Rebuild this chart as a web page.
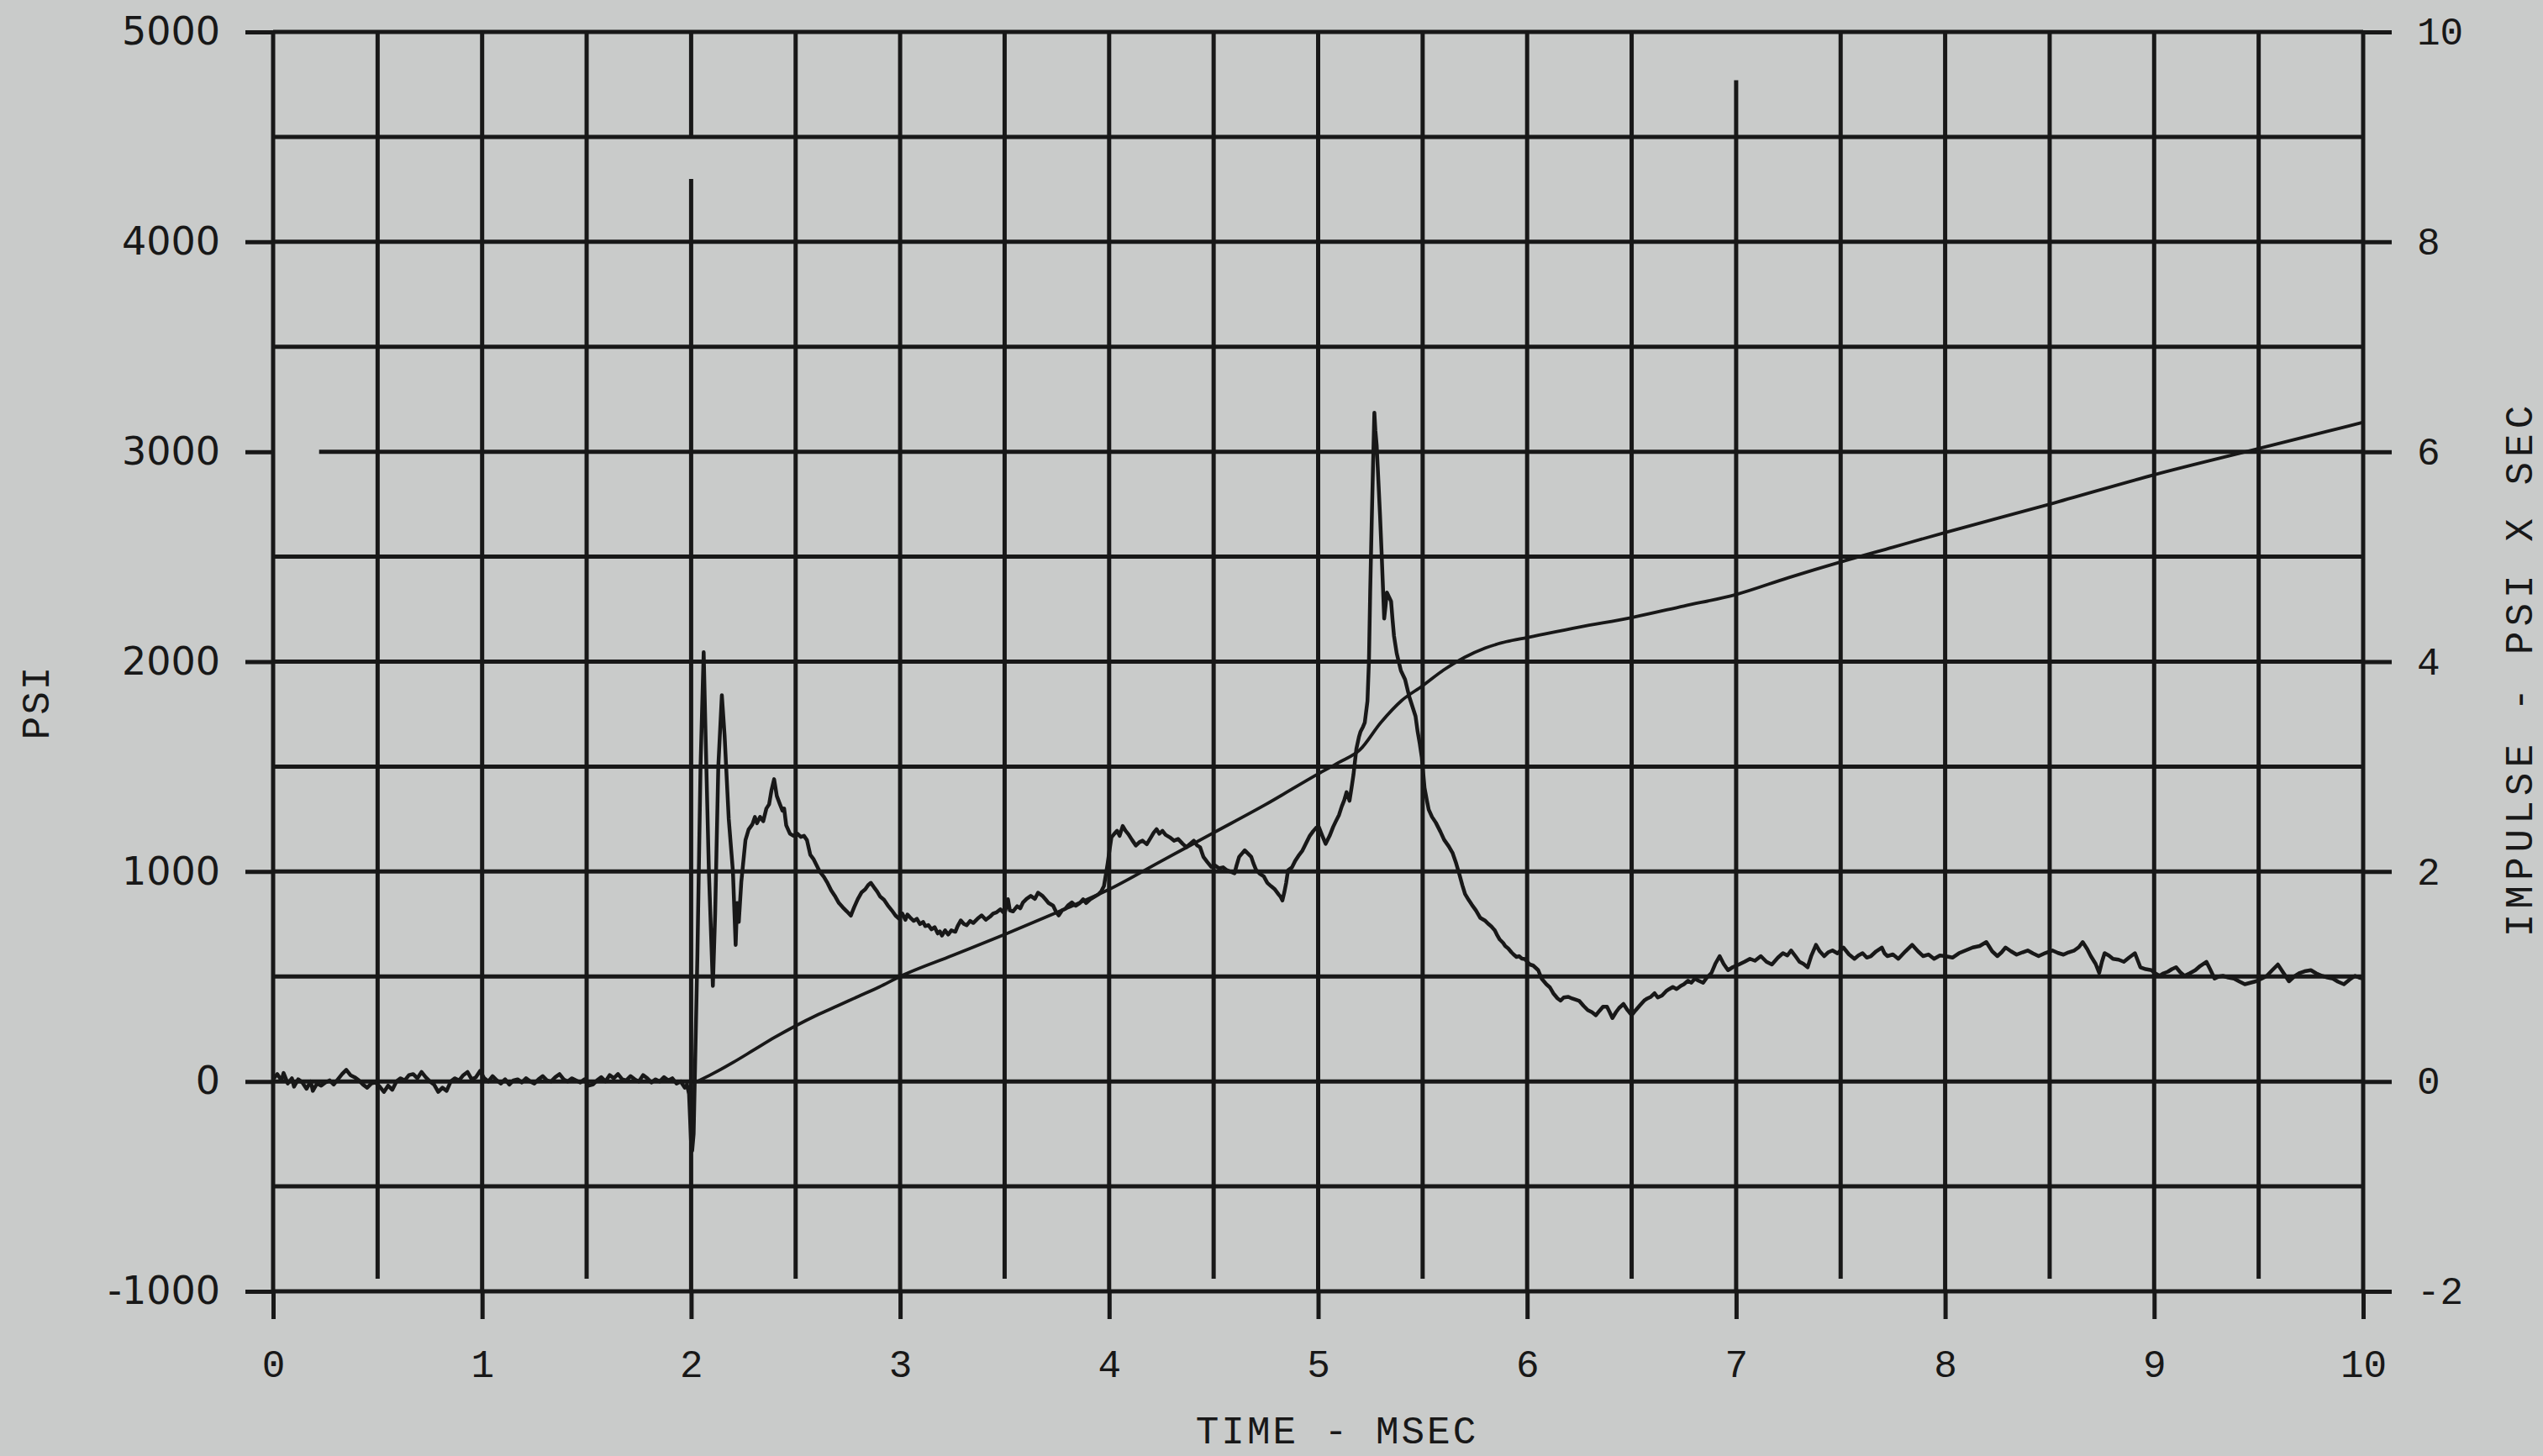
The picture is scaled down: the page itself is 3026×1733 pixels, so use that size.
<!DOCTYPE html>
<html>
<head>
<meta charset="utf-8">
<script src="https://cdn.jsdelivr.net/npm/d3@7"></script>
<style>
  html, body { margin: 0; padding: 0; background: #c9cbca; }
  svg { display: block; }
</style>
</head>
<body>
<div id="chart"></div>
<script>
// Tick values
const timeTicks = [0, 1, 2, 3, 4, 5, 6, 7, 8, 9, 10]
const psiTicks = [-1000, 0, 1000, 2000, 3000, 4000, 5000]
const impulseTicks = [-2, 0, 2, 4, 6, 8, 10]

// Grid every 0.5 msec and every 500 psi
const timeGrid = [0, 0.5, 1, 1.5, 2, 2.5, 3, 3.5, 4, 4.5, 5, 5.5, 6, 6.5, 7, 7.5, 8, 8.5, 9, 9.5, 10]
const psiGrid = [-1000, -500, 0, 500, 1000, 1500, 2000, 2500, 3000, 3500, 4000, 4500, 5000]

// Places where the plotter pen skipped a grid line
const timeGridGaps = [{ t: 2, from: 4500, to: 4300 }, { t: 7, from: 5000, to: 4770 }]
const psiGridGaps = [{ psi: 3000, from: 0, to: 0.22 }]

// Pressure trace [msec, psi]
const pressure = [
  [0.00, 10], [0.02, 35], [0.04, 5], [0.05, 40], [0.07, -10], [0.09, 15], [0.10, -25], [0.12, 10],
  [0.14, -5], [0.16, -35], [0.18, 0], [0.19, -45], [0.21, -10], [0.23, -20], [0.25, -5], [0.27, 5],
  [0.29, -15], [0.31, 10], [0.33, 35], [0.35, 55], [0.37, 30], [0.39, 20], [0.41, 5], [0.43, -15],
  [0.45, -30], [0.47, -10], [0.49, -5], [0.51, -25], [0.53, -50], [0.55, -20], [0.57, -40], [0.59, 0],
  [0.61, 15], [0.63, 5], [0.65, 30], [0.67, 35], [0.69, 15], [0.71, 45], [0.73, 20], [0.75, 0],
  [0.77, -15], [0.79, -50], [0.81, -30], [0.83, -45], [0.85, 0], [0.87, 15], [0.89, 5], [0.91, 30],
  [0.93, 45], [0.95, 10], [0.97, 20], [0.99, 50], [1.01, 15], [1.03, 0], [1.05, 25], [1.07, 5],
  [1.09, -10], [1.11, 10], [1.13, -15], [1.15, 5], [1.17, 10], [1.19, -5], [1.21, 15], [1.23, 0],
  [1.25, -10], [1.27, 10], [1.29, 25], [1.31, 5], [1.33, 0], [1.35, 20], [1.37, 35], [1.39, 10],
  [1.41, 0], [1.43, 15], [1.45, 5], [1.47, -5], [1.49, 10], [1.51, -20], [1.53, -15], [1.55, 5],
  [1.57, 20], [1.59, 0], [1.61, 30], [1.63, 15], [1.65, 35], [1.67, 10], [1.69, 5], [1.71, 25],
  [1.73, 10], [1.75, 0], [1.77, 30], [1.79, 15], [1.81, -5], [1.83, 10], [1.85, 0], [1.87, 20],
  [1.89, 5], [1.91, 15], [1.93, -10], [1.95, 0], [1.97, -30], [1.98, -15], [1.99, -60],
  [2.000, -300], [2.005, -330], [2.012, -250], [2.030, 600], [2.045, 1500], [2.060, 2045],
  [2.068, 1700], [2.085, 1000], [2.104, 455], [2.115, 800], [2.130, 1500], [2.147, 1840],
  [2.160, 1650], [2.180, 1250], [2.200, 1000], [2.213, 650], [2.220, 850], [2.228, 760],
  [2.240, 950], [2.260, 1150], [2.275, 1200], [2.293, 1225], [2.305, 1260], [2.315, 1230],
  [2.330, 1260], [2.345, 1240], [2.360, 1300], [2.373, 1320], [2.385, 1390], [2.397, 1440],
  [2.410, 1360], [2.425, 1320], [2.437, 1290], [2.445, 1300], [2.455, 1220], [2.473, 1180],
  [2.490, 1170], [2.509, 1180], [2.525, 1165], [2.540, 1170], [2.554, 1150], [2.570, 1080],
  [2.585, 1060], [2.600, 1030], [2.615, 1000], [2.635, 975], [2.650, 950], [2.670, 910],
  [2.690, 880], [2.707, 850], [2.725, 830], [2.745, 810], [2.764, 790], [2.780, 830],
  [2.797, 868], [2.815, 900], [2.833, 915], [2.847, 935], [2.860, 946], [2.875, 925],
  [2.890, 905], [2.905, 880], [2.923, 865], [2.940, 840], [2.960, 815], [2.978, 790],
  [2.995, 775], [3.010, 800], [3.025, 770], [3.035, 795], [3.049, 780], [3.065, 765],
  [3.080, 775], [3.095, 750], [3.110, 760], [3.120, 740], [3.135, 745], [3.150, 725],
  [3.165, 735], [3.180, 705], [3.190, 715], [3.200, 695], [3.215, 720], [3.230, 700],
  [3.245, 720], [3.264, 713], [3.275, 740], [3.290, 767], [3.305, 750], [3.318, 744],
  [3.335, 765], [3.350, 755], [3.370, 775], [3.390, 791], [3.410, 770], [3.430, 785],
  [3.445, 800], [3.462, 806], [3.480, 820], [3.500, 800], [3.516, 868], [3.525, 815],
  [3.540, 810], [3.560, 835], [3.575, 825], [3.588, 853], [3.605, 870], [3.625, 884],
  [3.645, 870], [3.660, 899], [3.680, 885], [3.695, 868], [3.710, 850], [3.732, 837],
  [3.745, 810], [3.759, 791], [3.775, 815], [3.790, 822], [3.805, 840], [3.822, 853],
  [3.840, 837], [3.860, 850], [3.876, 868], [3.890, 850], [3.910, 868], [3.930, 880],
  [3.948, 891], [3.962, 905], [3.975, 930], [3.985, 990], [3.993, 1039], [4.003, 1110],
  [4.011, 1163], [4.025, 1180], [4.038, 1194], [4.050, 1170], [4.065, 1217], [4.078, 1195],
  [4.092, 1178], [4.110, 1150], [4.128, 1124], [4.145, 1140], [4.160, 1147], [4.180, 1130],
  [4.200, 1163], [4.213, 1185], [4.227, 1202], [4.240, 1180], [4.255, 1194], [4.270, 1175],
  [4.290, 1163], [4.310, 1147], [4.330, 1155], [4.352, 1132], [4.370, 1116], [4.385, 1130],
  [4.405, 1147], [4.420, 1125], [4.435, 1116], [4.451, 1070], [4.470, 1045], [4.488, 1023],
  [4.505, 1030], [4.525, 1016], [4.545, 1020], [4.560, 1008], [4.580, 1000], [4.600, 992],
  [4.610, 1030], [4.622, 1070], [4.635, 1085], [4.649, 1101], [4.665, 1085], [4.680, 1070],
  [4.690, 1040], [4.703, 1008], [4.720, 990], [4.740, 977], [4.757, 946], [4.775, 930],
  [4.793, 915], [4.811, 891], [4.820, 880], [4.829, 862], [4.838, 900], [4.847, 946],
  [4.856, 1006], [4.875, 1020], [4.890, 1050], [4.909, 1079], [4.925, 1100], [4.940, 1130],
  [4.960, 1170], [4.976, 1192], [4.991, 1209], [5.003, 1213], [5.020, 1170], [5.036, 1132],
  [5.055, 1170], [5.072, 1213], [5.085, 1240], [5.100, 1270], [5.113, 1310], [5.125, 1340],
  [5.136, 1378], [5.150, 1337], [5.160, 1400], [5.169, 1461], [5.183, 1585], [5.195, 1640],
  [5.203, 1667], [5.215, 1690], [5.223, 1709], [5.236, 1812], [5.243, 2000], [5.249, 2329],
  [5.256, 2650], [5.263, 2948], [5.269, 3186], [5.274, 3100], [5.280, 3031], [5.289, 2845],
  [5.296, 2700], [5.303, 2535], [5.316, 2205], [5.322, 2260], [5.329, 2329], [5.338, 2310],
  [5.349, 2287], [5.356, 2200], [5.363, 2122], [5.376, 2039], [5.396, 1957], [5.416, 1915],
  [5.436, 1833], [5.456, 1771], [5.466, 1740], [5.476, 1667], [5.486, 1610], [5.496, 1543],
  [5.509, 1399], [5.520, 1340], [5.529, 1295], [5.545, 1260], [5.563, 1233], [5.585, 1190],
  [5.603, 1151], [5.625, 1120], [5.643, 1089], [5.660, 1040], [5.676, 986], [5.690, 935],
  [5.703, 893], [5.720, 865], [5.736, 841], [5.755, 815], [5.776, 779], [5.800, 765],
  [5.815, 750], [5.829, 738], [5.845, 720], [5.855, 700], [5.869, 676], [5.885, 660],
  [5.895, 645], [5.909, 634], [5.925, 615], [5.935, 605], [5.949, 593], [5.961, 597],
  [5.975, 585], [5.989, 583], [6.013, 557], [6.029, 552], [6.053, 530], [6.069, 490],
  [6.092, 463], [6.109, 448], [6.125, 420], [6.145, 396], [6.160, 385], [6.175, 400],
  [6.197, 403], [6.215, 395], [6.230, 390], [6.250, 383], [6.270, 360], [6.290, 340],
  [6.310, 330], [6.329, 315], [6.345, 335], [6.363, 356], [6.382, 356], [6.395, 330],
  [6.408, 302], [6.425, 330], [6.440, 350], [6.461, 369], [6.480, 340], [6.500, 315],
  [6.520, 340], [6.539, 362], [6.560, 385], [6.575, 395], [6.592, 403], [6.610, 420],
  [6.625, 400], [6.645, 409], [6.665, 430], [6.680, 440], [6.697, 450], [6.715, 440],
  [6.735, 455], [6.750, 463], [6.770, 480], [6.785, 470], [6.803, 490], [6.820, 480],
  [6.842, 470], [6.860, 495], [6.882, 517], [6.900, 560], [6.921, 597], [6.940, 560],
  [6.961, 530], [6.985, 545], [7.013, 557], [7.040, 570], [7.066, 584], [7.090, 575],
  [7.118, 597], [7.145, 570], [7.171, 557], [7.200, 590], [7.224, 611], [7.245, 600],
  [7.263, 624], [7.285, 595], [7.303, 570], [7.322, 560], [7.342, 544], [7.360, 600],
  [7.382, 651], [7.400, 620], [7.421, 597], [7.440, 615], [7.461, 624], [7.485, 610],
  [7.513, 638], [7.540, 605], [7.566, 584], [7.585, 600], [7.605, 611], [7.625, 590],
  [7.645, 597], [7.670, 620], [7.697, 638], [7.710, 610], [7.724, 597], [7.750, 605],
  [7.776, 584], [7.810, 620], [7.842, 651], [7.870, 620], [7.895, 597], [7.920, 605],
  [7.947, 584], [7.975, 600], [8.000, 597], [8.035, 590], [8.066, 611], [8.100, 625],
  [8.132, 638], [8.165, 645], [8.197, 664], [8.225, 620], [8.250, 597], [8.270, 615],
  [8.289, 638], [8.315, 620], [8.342, 604], [8.370, 615], [8.395, 624], [8.420, 610],
  [8.447, 597], [8.480, 612], [8.513, 624], [8.540, 612], [8.566, 604], [8.590, 615],
  [8.618, 624], [8.640, 640], [8.658, 664], [8.680, 630], [8.697, 597], [8.720, 560],
  [8.737, 517], [8.750, 570], [8.763, 611], [8.783, 600], [8.803, 584], [8.830, 580],
  [8.855, 570], [8.880, 590], [8.908, 611], [8.920, 580], [8.934, 544], [8.960, 535],
  [8.987, 530], [9.005, 515], [9.026, 503], [9.045, 515], [9.066, 523], [9.085, 535],
  [9.105, 544], [9.125, 520], [9.145, 503], [9.170, 515], [9.197, 530], [9.220, 550],
  [9.250, 570], [9.270, 530], [9.289, 490], [9.310, 500], [9.329, 503], [9.355, 495],
  [9.382, 490], [9.410, 475], [9.434, 463], [9.460, 470], [9.487, 477], [9.515, 490],
  [9.539, 503], [9.565, 530], [9.592, 557], [9.620, 515], [9.645, 477], [9.670, 500],
  [9.697, 517], [9.720, 525], [9.750, 530], [9.775, 515], [9.803, 503], [9.830, 495],
  [9.855, 490], [9.880, 475], [9.908, 463], [9.935, 485], [9.961, 503], [9.980, 495],
  [10.00, 490]
]

// Impulse trace [msec, psi x sec]
const impulse = [
  [2.03, 0], [2.1, 0.07], [2.2, 0.18], [2.3, 0.3], [2.4, 0.42], [2.5, 0.53], [2.6, 0.63],
  [2.7, 0.72], [2.8, 0.81], [2.9, 0.9], [3.0, 1.0], [3.25, 1.2], [3.5, 1.4], [3.75, 1.61],
  [4.0, 1.83], [4.25, 2.1], [4.5, 2.37], [4.75, 2.64], [5.0, 2.93], [5.1, 3.04], [5.2, 3.16],
  [5.3, 3.42], [5.4, 3.63], [5.5, 3.77], [5.6, 3.92], [5.7, 4.04], [5.8, 4.13], [5.9, 4.19],
  [6.0, 4.23], [6.25, 4.33], [6.5, 4.42], [6.75, 4.53], [7.0, 4.64], [7.25, 4.8], [7.5, 4.95],
  [7.75, 5.09], [8.0, 5.23], [8.5, 5.5], [9.0, 5.78], [9.5, 6.03], [10.0, 6.28]
]

const width = 3026,
  height = 1733,
  margin = { top: 38, right: 214, bottom: 196, left: 325 },
  ink = '#181818',
  gridWidth = 5

const x = d3
  .scaleLinear()
  .domain([0, 10])
  .range([margin.left, width - margin.right])

const y = d3
  .scaleLinear()
  .domain([-1000, 5000])
  .range([height - margin.bottom, margin.top])

const yImpulse = d3
  .scaleLinear()
  .domain([-2, 10])
  .range([height - margin.bottom, margin.top])

const svg = d3
  .select('#chart')
  .append('svg')
  .attr('width', width)
  .attr('height', height)

svg
  .append('rect')
  .attr('width', width)
  .attr('height', height)
  .attr('fill', '#c9cbca')

// Horizontal grid, split where a gap is listed
const hSegments = []
psiGrid.forEach(p => {
  const gap = psiGridGaps.find(g => g.psi === p)
  if (gap) {
    if (gap.from > 0) hSegments.push({ p, t0: 0, t1: gap.from })
    hSegments.push({ p, t0: gap.to, t1: 10 })
  } else {
    hSegments.push({ p, t0: 0, t1: 10 })
  }
})

svg
  .append('g')
  .selectAll('line')
  .data(hSegments)
  .enter()
  .append('line')
  .attr('x1', d => x(d.t0))
  .attr('x2', d => x(d.t1))
  .attr('y1', d => y(d.p))
  .attr('y2', d => y(d.p))
  .attr('stroke', ink)
  .attr('stroke-width', gridWidth)

// Vertical grid; half-msec lines stop short of the bottom
const vSegments = []
timeGrid.forEach(t => {
  const bottom = Number.isInteger(t) ? -1000 : -940
  const gap = timeGridGaps.find(g => g.t === t)
  if (gap) {
    if (gap.from < 5000) vSegments.push({ t, p0: 5000, p1: gap.from })
    vSegments.push({ t, p0: gap.to, p1: bottom })
  } else {
    vSegments.push({ t, p0: 5000, p1: bottom })
  }
})

svg
  .append('g')
  .selectAll('line')
  .data(vSegments)
  .enter()
  .append('line')
  .attr('x1', d => x(d.t))
  .attr('x2', d => x(d.t))
  .attr('y1', d => y(d.p0))
  .attr('y2', d => y(d.p1))
  .attr('stroke', ink)
  .attr('stroke-width', gridWidth)

// Axes
const styleAxis = g => {
  g.select('.domain').remove()
  g.selectAll('.tick line').attr('stroke', ink).attr('stroke-width', gridWidth)
  g.selectAll('.tick text').attr('fill', ink)
}

svg
  .append('g')
  .attr('transform', 'translate(' + x(0) + ',0)')
  .call(
    d3
      .axisLeft(y)
      .tickValues(psiTicks)
      .tickSize(33)
      .tickPadding(30)
      .tickFormat(d => String(d))
  )
  .call(styleAxis)
  .selectAll('text')
  .style('font-family', '"DejaVu Sans", sans-serif')
  .style('font-size', '46px')

svg
  .append('g')
  .attr('transform', 'translate(0,' + y(-1000) + ')')
  .call(
    d3
      .axisBottom(x)
      .tickValues(timeTicks)
      .tickSize(33)
      .tickPadding(36)
      .tickFormat(d => String(d))
  )
  .call(styleAxis)
  .selectAll('text')
  .style('font-family', '"Liberation Mono", monospace')
  .style('font-size', '46px')

svg
  .append('g')
  .attr('transform', 'translate(' + x(10) + ',0)')
  .call(
    d3
      .axisRight(yImpulse)
      .tickValues(impulseTicks)
      .tickSize(34)
      .tickPadding(30)
      .tickFormat(d => String(d))
  )
  .call(styleAxis)
  .selectAll('text')
  .style('font-family', '"Liberation Mono", monospace')
  .style('font-size', '46px')

// Traces
const pressureLine = d3
  .line()
  .x(d => x(d[0]))
  .y(d => y(d[1]))

const impulseLine = d3
  .line()
  .x(d => x(d[0]))
  .y(d => yImpulse(d[1]))
  .curve(d3.curveMonotoneX)

svg
  .append('path')
  .datum(impulse)
  .attr('fill', 'none')
  .attr('stroke', ink)
  .attr('stroke-width', 3.8)
  .attr('d', impulseLine)

svg
  .append('path')
  .datum(pressure)
  .attr('fill', 'none')
  .attr('stroke', ink)
  .attr('stroke-width', 4.5)
  .attr('stroke-linejoin', 'round')
  .attr('d', pressureLine)

// Axis titles
const titleFont = '"Liberation Mono", monospace'

svg
  .append('text')
  .attr('transform', 'translate(58,836) rotate(-90)')
  .attr('text-anchor', 'middle')
  .style('font-family', titleFont)
  .style('font-size', '46px')
  .style('letter-spacing', '2px')
  .attr('fill', ink)
  .text('PSI')

svg
  .append('text')
  .attr('transform', 'translate(3013,796) rotate(-90)')
  .attr('text-anchor', 'middle')
  .style('font-family', titleFont)
  .style('font-size', '46px')
  .style('letter-spacing', '6px')
  .attr('fill', ink)
  .text('IMPULSE - PSI X SEC')

svg
  .append('text')
  .attr('x', 1591)
  .attr('y', 1718)
  .attr('text-anchor', 'middle')
  .style('font-family', titleFont)
  .style('font-size', '46px')
  .style('letter-spacing', '3px')
  .attr('fill', ink)
  .text('TIME - MSEC')
</script>
</body>
</html>
